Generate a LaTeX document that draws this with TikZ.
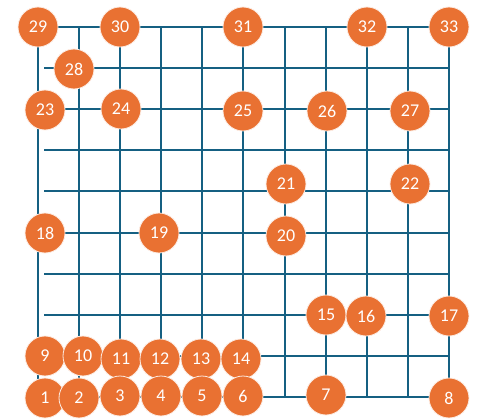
\documentclass[tikz,border=0pt]{standalone}
\usepackage{fontspec}
\setmainfont{Carlito}
\usepackage{xcolor}
\definecolor{gridblue}{RGB}{21, 96, 130}
\definecolor{stoporange}{RGB}{233, 113, 50}
\usepackage{tikz}
\usetikzlibrary{positioning}

\begin{document}
\begin{tikzpicture}[
  x=1pt, y=-1pt,
  street/.style={draw=gridblue, line width=2pt},
  stop/.style={circle, fill=stoporange, draw=white!85!stoporange, line width=0.8pt, minimum size=40pt, inner sep=0pt, text=white, font=\fontsize{18}{18}\selectfont}
]
\useasboundingbox (0,0) rectangle (480,420);

% grid
\foreach \gx in {0,...,10}
  \draw[street] (37.5+41.17*\gx,27) -- (37.5+41.17*\gx,397);
\foreach \gy in {0,...,9}
  \draw[street] (44,27+41.1*\gy) -- (449.2,27+41.1*\gy);

% top
\node[stop] (n29) at (38,27) {29};
\node[stop] (n30) at (120,27) {30};
\node[stop] (n31) at (243,27) {31};
\node[stop] (n32) at (367,27) {32};
\node[stop] (n33) at (449,27) {33};
\node[stop] (n28) at (74,69) {28};
\node[stop] (n23) at (45,110) {23};
\node[stop] (n24) at (121,109) {24};
\node[stop] (n25) at (243,111) {25};
\node[stop] (n26) at (327,111) {26};
\node[stop] (n27) at (410,111) {27};

% middle
\node[stop] (n21) at (286,184) {21};
\node[stop] (n22) at (410,184) {22};
\node[stop] (n18) at (45,233) {18};
\node[stop] (n19) at (159,233) {19};
\node[stop] (n20) at (286,236) {20};
\node[stop] (n15) at (326,315) {15};
\node[stop] (n16) at (366,316) {16};
\node[stop] (n17) at (449,316) {17};

% bottom
\node[stop] (n9) at (45,356) {9};
\node[stop] (n10) at (83,356) {10};
\node[stop] (n11) at (121,359) {11};
\node[stop] (n12) at (160,359) {12};
\node[stop] (n13) at (201,359) {13};
\node[stop] (n14) at (241,359) {14};
\node[stop] (n1) at (45,398) {1};
\node[stop] (n2) at (79,398) {2};
\node[stop] (n3) at (120,396) {3};
\node[stop] (n4) at (161,396) {4};
\node[stop] (n5) at (202,396) {5};
\node[stop] (n6) at (243,396) {6};
\node[stop] (n7) at (326,395) {7};
\node[stop] (n8) at (449,398) {8};
\end{tikzpicture}
\end{document}
